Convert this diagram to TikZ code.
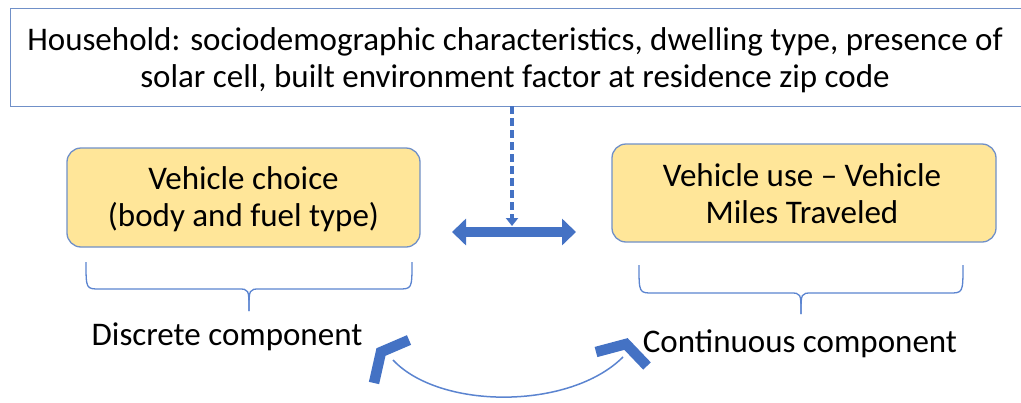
\documentclass[tikz,border=0pt]{standalone}
\usepackage{fontspec}
\setmainfont{Carlito}
\usetikzlibrary{arrows.meta}
\definecolor{boxfill}{HTML}{FFE699}
\definecolor{boxline}{HTML}{7090C8}
\definecolor{arrblue}{HTML}{4472C4}
\definecolor{arcblue}{HTML}{5B84D0}
\tikzset{
  txt/.style={font=\fontsize{33}{37}\selectfont, align=center, text=black},
  hhbox/.style={draw=boxline, line width=1.3pt, fill=white, minimum width=1030pt, minimum height=98pt, inner sep=0pt},
  ybox/.style={draw=boxline, line width=1.3pt, fill=boxfill, rounded corners=14pt, inner sep=0pt},
  bracestyle/.style={draw=arcblue, line width=1.3pt},
  chevron/.style={draw=arrblue, line width=10.5pt, miter limit=10},
}
\begin{document}
\begin{tikzpicture}[x=1pt,y=-1pt]
\useasboundingbox (0,0) rectangle (1021,402);
\node[hhbox, anchor=north west] (hh) at (10,8) {};
\node[txt, anchor=center] (hhtxt) at (515,60) {Household: sociodemographic characteristics, dwelling type, presence of\\solar cell, built environment factor at residence zip code};
\node[ybox, minimum width=353pt, minimum height=99pt] (vc) at (243.5,197.5) {};
\node[txt] (vctxt) at (243.5,199) {Vehicle choice\\(body and fuel type)};
\node[ybox, minimum width=384pt, minimum height=98pt] (vu) at (804,193) {};
\node[txt] (vutxt) at (802,194) {Vehicle use -- Vehicle\\Miles Traveled};
% braces
\draw[bracestyle] (86,262) .. controls (86,289) and (86,289) .. (100,289) -- (238,289) .. controls (249,289) and (249,289) .. (249,311);
\draw[bracestyle] (412,262) .. controls (412,289) and (412,289) .. (398,289) -- (260,289) .. controls (249,289) and (249,289) .. (249,311);
\draw[bracestyle] (639,265) .. controls (639,293) and (639,293) .. (653,293) -- (790,293) .. controls (801,293) and (801,293) .. (801,314);
\draw[bracestyle] (963,265) .. controls (963,293) and (963,293) .. (949,293) -- (812,293) .. controls (801,293) and (801,293) .. (801,314);
\node[txt, anchor=center] (disc) at (227,337) {Discrete component};
\node[txt, anchor=center] (cont) at (800,344) {Continuous component};
% double arrow
\coordinate (dl) at (452,232);
\coordinate (dr) at (576,232);
\draw[arrblue, line width=10pt, {Triangle[width=26pt,length=14pt]}-{Triangle[width=26pt,length=14pt]}] (dl) -- (dr);
% dashed arrow
\coordinate (dtop) at (512,106);
\coordinate (dbot) at (512,226);
\draw[arrblue, line width=4.5pt, dash pattern=on 8pt off 4pt, -{Triangle[width=12pt,length=8pt]}] (dtop) -- (dbot);
% arc
\coordinate (al) at (393,360);
\coordinate (ar) at (623,357);
\draw[arcblue, line width=1.5pt] (al) .. controls (440,410) and (570,410) .. (ar);
\draw[chevron] (409,340) -- (381,352) -- (374,383);
\draw[chevron] (596,352) -- (626,344) -- (647,366);
\end{tikzpicture}
\end{document}
